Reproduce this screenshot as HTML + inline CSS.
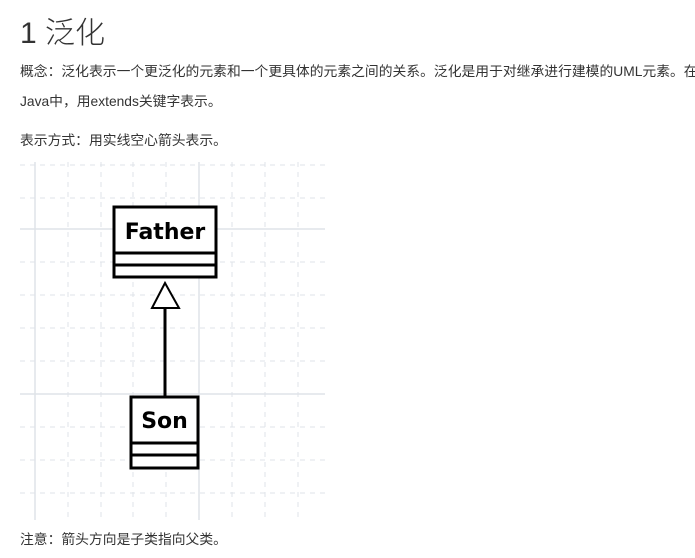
<!DOCTYPE html>
<html><head><meta charset="utf-8"><style>
body{margin:0;width:695px;height:558px;background:#fff;position:relative;overflow:hidden;font-family:"Liberation Sans","Noto Sans CJK SC",sans-serif;color:#333}
.t{position:absolute;left:20px;white-space:nowrap;font-size:13.8px}
</style></head><body>
<div class="t" style="top:8px;font-size:30px;font-weight:300;color:#333">1 泛化</div>
<div class="t" style="top:60px">概念：泛化表示一个更泛化的元素和一个更具体的元素之间的关系。泛化是用于对继承进行建模的UML元素。在</div>
<div class="t" style="top:90px">Java中，用extends关键字表示。</div>
<div class="t" style="top:129px">表示方式：用实线空心箭头表示。</div>
<svg style="position:absolute;left:0;top:0" width="695" height="558">
<g stroke="#dfe3e8" stroke-width="1" stroke-dasharray="5,5">
<line x1="68" y1="162" x2="68" y2="520"/><line x1="101" y1="162" x2="101" y2="520"/><line x1="133" y1="162" x2="133" y2="520"/><line x1="166" y1="162" x2="166" y2="520"/><line x1="232" y1="162" x2="232" y2="520"/><line x1="265" y1="162" x2="265" y2="520"/><line x1="298" y1="162" x2="298" y2="520"/>
<line x1="20" y1="165" x2="325" y2="165"/><line x1="20" y1="198" x2="325" y2="198"/><line x1="20" y1="262" x2="325" y2="262"/><line x1="20" y1="295" x2="325" y2="295"/><line x1="20" y1="328" x2="325" y2="328"/><line x1="20" y1="361" x2="325" y2="361"/><line x1="20" y1="427" x2="325" y2="427"/><line x1="20" y1="460" x2="325" y2="460"/><line x1="20" y1="493" x2="325" y2="493"/>
</g>
<g stroke="#dfe3e8" stroke-width="1.5">
<line x1="35" y1="162" x2="35" y2="520"/><line x1="199" y1="162" x2="199" y2="520"/>
<line x1="20" y1="229" x2="325" y2="229"/><line x1="20" y1="394" x2="325" y2="394"/>
</g>
<g stroke="#000" stroke-width="3" fill="#fff">
<rect x="114" y="207" width="102" height="70"/>
<line x1="114" y1="253" x2="216" y2="253"/><line x1="114" y1="265" x2="216" y2="265"/>
<rect x="131" y="397" width="67" height="71"/>
<line x1="131" y1="443" x2="198" y2="443"/><line x1="131" y1="455" x2="198" y2="455"/>
<line x1="165" y1="308" x2="165" y2="397" fill="none"/>
<polygon points="165,283 152,308 179,308" stroke-width="2"/>
</g>
<text x="165" y="239" text-anchor="middle" font-family="DejaVu Sans" font-weight="bold" font-size="22" fill="#000">Father</text>
<text x="164.5" y="428" text-anchor="middle" font-family="DejaVu Sans" font-weight="bold" font-size="22" fill="#000">Son</text>
</svg>
<div class="t" style="top:528px">注意：箭头方向是子类指向父类。</div>
</body></html>
